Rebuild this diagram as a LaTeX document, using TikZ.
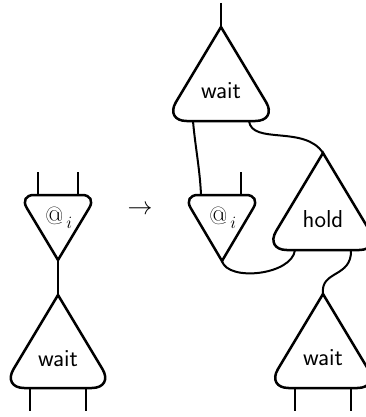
\documentclass[tikz,border=0pt]{standalone}
\usepackage{amsmath}
\newcommand{\uptri}[4]{% name, apex x, apex y, base y
  \coordinate (#1) at (#2,#3);
  \draw[gate] (#2,#4) [rounded corners=22pt] -- ({#2+0.6*(#4-#3)},#4) [sharp corners] -- (#1) [rounded corners=22pt] -- ({#2-0.6*(#4-#3)},#4) -- cycle;
}
\begin{document}
\begin{tikzpicture}[x=1pt,y=-1pt,
  gate/.style={line width=2.5pt,line join=miter,miter limit=10},
  wire/.style={line width=2pt},
  lbl/.style={inner sep=0pt,font=\fontsize{24.5}{28}\selectfont\sffamily},
  mlbl/.style={inner sep=0pt,font=\fontsize{23}{28}\selectfont}]
\useasboundingbox (0,0) rectangle (365,417);
% left side
\uptri{lw}{58}{295}{388}
\node[lbl] (lwt) at (58,359) {wait};
\coordinate (la) at (58,260);
\draw[gate] (58,195) [rounded corners=15pt] -- (97,195) [sharp corners] -- (la) [rounded corners=15pt] -- (19,195) -- cycle;
\node[mlbl] (lat) at (59,218) {$@_{\,i}$};
\coordinate (lat1) at (38,172); \coordinate (lab1) at (38,195);
\coordinate (lat2) at (78,172); \coordinate (lab2) at (78,195);
\draw[wire] (lat1) -- (lab1);
\draw[wire] (lat2) -- (lab2);
\draw[wire] (la) -- (lw);
\coordinate (lwb1) at (30,388); \coordinate (lwe1) at (30,411);
\coordinate (lwb2) at (86,388); \coordinate (lwe2) at (86,411);
\draw[wire] (lwb1) -- (lwe1);
\draw[wire] (lwb2) -- (lwe2);
% arrow
\node[mlbl] (arrow) at (140,210) {\fontsize{28}{30}\selectfont$\rightarrow$};
% right top wait
\uptri{tw}{221}{27}{121}
\node[lbl] (twt) at (221,91) {wait};
\coordinate (twin) at (221,3);
\draw[wire] (twin) -- (tw);
\coordinate (twb1) at (193,121);
\coordinate (twb2) at (249,121);
% right @
\coordinate (ra) at (222,261);
\draw[gate] (222,195) [rounded corners=15pt] -- (261,195) [sharp corners] -- (ra) [rounded corners=15pt] -- (183,195) -- cycle;
\node[mlbl] (rat) at (223,218) {$@_{\,i}$};
\coordinate (rab1) at (201,195);
\coordinate (rat2) at (241,172); \coordinate (rab2) at (241,195);
\draw[wire] (rat2) -- (rab2);
\draw[wire] (twb1) .. controls (195,145) and (200,170) .. (rab1);
% hold
\uptri{h}{323}{153}{250}
\node[lbl] (ht) at (323,219) {hold};
\draw[wire] (twb2) .. controls (252,145) and (305,125) .. (h);
\coordinate (hb1) at (295,250);
\coordinate (hb2) at (351,250);
\draw[wire] (ra) .. controls (228,282) and (292,275) .. (hb1);
% bottom wait
\uptri{bw}{323}{294}{388}
\node[lbl] (bwt) at (323,358) {wait};
\draw[wire] (hb2) .. controls (352,278) and (320,270) .. (bw);
\coordinate (bwb1) at (295,388); \coordinate (bwe1) at (295,411);
\coordinate (bwb2) at (351,388); \coordinate (bwe2) at (351,411);
\draw[wire] (bwb1) -- (bwe1);
\draw[wire] (bwb2) -- (bwe2);
\end{tikzpicture}
\end{document}
